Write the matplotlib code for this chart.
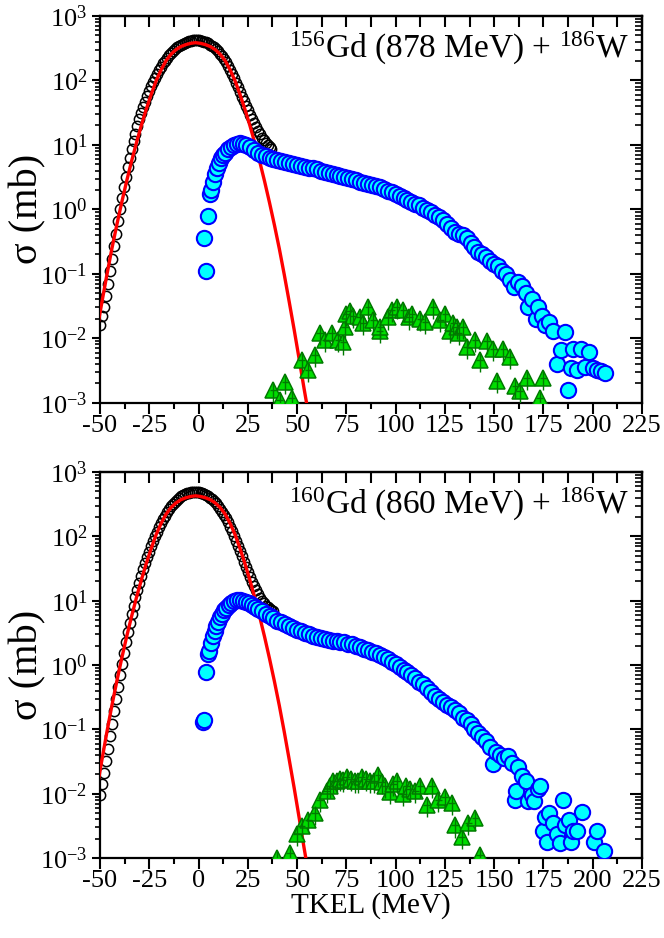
import numpy as np
import matplotlib
matplotlib.use("Agg")
import matplotlib.pyplot as plt
from matplotlib.ticker import LogLocator, MultipleLocator, NullFormatter, LogFormatterMathtext

plt.rcParams['font.family'] = ['Liberation Serif', 'DejaVu Serif']
plt.rcParams['mathtext.fontset'] = 'custom'
plt.rcParams['mathtext.rm'] = 'Liberation Serif'
plt.rcParams['mathtext.it'] = 'Liberation Serif:italic'
plt.rcParams['axes.unicode_minus'] = False

# ---------------- upper panel: 156Gd + 186W ----------------
titles = [r'$^{156}$Gd (878 MeV) + $^{186}$W', r'$^{160}$Gd (860 MeV) + $^{186}$W']

# quasi-elastic data (open black circles), 1 MeV steps from -50
qe_x1 = list(range(-50, 38))
qe_y1 = [0.016, 0.022, 0.03, 0.045, 0.07, 0.11, 0.17, 0.27, 0.42, 0.65,
         1.0, 1.5, 2.2, 3.2, 4.5, 6.3, 8.6, 11.5, 15, 19.5,
         25, 31, 38, 47, 57, 68, 81, 95, 110, 127,
         145, 163, 183, 203, 224, 245, 266, 286, 305, 324,
         341, 357, 371, 384, 395, 404, 411, 416, 419, 420,
         418, 414, 408, 399, 388, 375, 360, 343, 324, 304,
         283, 260, 237, 214, 191, 168, 147, 127, 108, 92,
         78, 66, 56, 47.5, 40.5, 34.5, 29.5, 25.5, 22, 19,
         16.6, 14.6, 13, 11.7, 10.6, 9.8, 9.1, 8.5]

# fitted curve (red)
fit_x = [-51.5, -49, -46.5, -44, -41.5, -39, -36.5, -34, -31.5, -29, -26.5, -24,
         -21.5, -19, -16.5, -14, -11.5, -9, -6.5, -4, -1.5, 1, 3.5, 6, 8.5, 11,
         13.5, 16, 18.5, 21, 23.5, 26, 28.5, 31, 33.5, 36, 38.5, 41, 43.5, 46,
         48.5, 51, 53.5, 56]
fit_y1 = [0.0136, 0.0367, 0.0966, 0.243, 0.569, 1.27, 2.72, 5.56, 10.8, 20.2,
          35.9, 61.0, 98.9, 146, 202, 254, 299, 335, 359, 376, 385,
          376, 359, 335, 299, 254, 202, 146, 98.9, 61.0, 35.9, 20.2, 10.8,
          5.56, 2.72, 1.27, 0.569, 0.243, 0.0966, 0.0367, 0.0136, 0.00484,
          0.00168, 0.00061]

# deep-inelastic data (cyan circles)
dic_x1 = [3.8, 2.8, 5, 6, 6.5, 7.5, 8.5, 9.5, 10.5, 11.5, 12.5, 13.5, 15, 16.5,
          18, 19.5, 21, 22.5, 24, 26, 28, 30, 32, 34, 36, 38, 40, 42, 44, 46,
          48, 50, 52, 54, 56, 58, 60, 62, 64, 66, 68, 70, 72, 74, 76, 78, 80,
          82, 84, 86, 88, 90, 92, 94, 96, 98, 100, 102, 104, 106, 108, 110,
          112, 114, 116, 118, 120, 122, 124, 126, 128, 130, 132, 134, 136,
          138, 140, 142, 144, 146, 148, 150, 152, 154, 156, 158, 160, 162,
          164, 166, 167, 169, 171, 172, 174, 176, 178, 180, 182, 184, 186,
          187.5, 189, 190, 192, 194, 196, 198, 200, 202, 204, 206]
dic_y1 = [0.11, 0.36, 0.78, 1.75, 2.0, 2.7, 3.5, 4.4, 5.3, 6.2, 7.0, 7.6, 8.5,
          9.2, 9.8, 10.3, 10.5, 10.3, 9.9, 9.2, 8.3, 7.6, 7.0, 6.6, 6.3, 6.0,
          5.8, 5.6, 5.4, 5.2, 5.0, 4.85, 4.7, 4.6, 4.45, 4.3, 4.15, 4.0, 3.85,
          3.7, 3.55, 3.4, 3.3, 3.15, 3.05, 2.95, 2.85, 2.7, 2.6, 2.5, 2.4, 2.3,
          2.2, 2.05, 1.95, 1.85, 1.7, 1.6, 1.5, 1.4, 1.3, 1.22, 1.15, 1.05,
          0.97, 0.9, 0.82, 0.76, 0.68, 0.6, 0.52, 0.45, 0.42, 0.4, 0.36, 0.3,
          0.26, 0.22, 0.2, 0.18, 0.16, 0.14, 0.13, 0.11, 0.1, 0.08, 0.063,
          0.075, 0.065, 0.05, 0.031, 0.04, 0.02, 0.03, 0.022, 0.016, 0.018,
          0.013, 0.004, 0.0066, 0.0125, 0.0016, 0.0035, 0.0068, 0.0032,
          0.0069, 0.0036, 0.0061, 0.0034, 0.0032, 0.0031, 0.0029]

# quasi-fission / fusion-fission data (green triangles)
qf_x1 = [37.9, 43.9, 41.3, 47.3, 52.3, 55.7, 59.1, 61.6, 64.2, 67.5, 70.9, 73.4,
         74.3, 75, 76.8, 78.5, 81.9, 83.6, 86.1, 88.7, 92, 92.1, 96.3, 98,
         100.5, 103.9, 107, 108.1, 112.4, 115, 119.1, 122.5, 125.1, 127.6,
         129.3, 131, 132, 134.4, 136.1, 140.3, 142.8, 146.2, 149.6, 151.3,
         154.6, 158, 160.6, 163, 166.5, 173.2, 174.9]
qf_y1 = [0.0016, 0.0021, 0.0011, 0.0012, 0.0046, 0.0032, 0.0055, 0.012, 0.0094,
         0.012, 0.0094, 0.0086, 0.015, 0.024, 0.026, 0.022, 0.021, 0.017,
         0.031, 0.019, 0.013, 0.015, 0.021, 0.027, 0.031, 0.027, 0.021, 0.024,
         0.020, 0.018, 0.031, 0.019, 0.024, 0.013, 0.017, 0.015, 0.012, 0.015,
         0.0074, 0.0094, 0.0046, 0.0089, 0.0069, 0.0022, 0.0069, 0.0051,
         0.0018, 0.0015, 0.0024, 0.0012, 0.0024]

# ---------------- lower panel: 160Gd + 186W ----------------
qe_x2 = list(range(-50, 39))
qe_y2 = [0.0095, 0.014, 0.021, 0.032, 0.05, 0.078, 0.12, 0.19, 0.3, 0.46,
         0.7, 1.05, 1.55, 2.25, 3.2, 4.5, 6.2, 8.4, 11.2, 14.7,
         19, 24.5, 31, 39, 48, 58, 70, 84, 100, 118,
         138, 160, 184, 209, 236, 264, 292, 320, 347, 373,
         397, 419, 438, 454, 467, 477, 484, 488, 490, 489,
         485, 478, 468, 455, 439, 420, 399, 376, 351, 325,
         298, 270, 243, 216, 190, 165, 142, 121, 102, 85,
         71, 59, 49, 40.5, 33.5, 28, 23.5, 19.8, 16.8, 14.5,
         12.6, 11.1, 10, 9.1, 8.4, 7.9, 7.5, 7.2, 7.0]

fit_y2 = [0.01233, 0.0338, 0.0908, 0.232, 0.554, 1.26, 2.74, 5.66, 11.2, 21.1,
          38.0, 65.2, 106.7, 159, 221, 279.5, 329.5, 370.5, 397.5, 416.7, 426.6,
          416.7, 397.5, 370.5, 329.5, 279.5, 221, 159, 106.7, 65.2, 38.0,
          21.1, 11.2, 5.66, 2.74, 1.26, 0.554, 0.232, 0.0908, 0.0338, 0.01233,
          0.00429, 0.00146, 0.00052]

dic_x2 = [2.2, 3, 3.8, 5, 5.5, 6.5, 7.3, 8.2, 9, 10, 11, 12, 13, 14, 15.2, 16.5,
          18, 19.5, 21, 22.5, 24, 25.5, 27, 28.5, 30, 32, 34, 36, 38, 40, 42,
          44, 46, 48, 50, 52, 54, 56, 58, 60, 62, 64, 66, 68, 70, 72, 74, 76,
          78, 80, 82, 84, 86, 88, 90, 92, 94, 96, 98, 100, 102, 104, 106, 108,
          110, 112, 114, 116, 118, 120, 122, 124, 126, 128, 130, 132, 134, 136,
          138, 140, 142, 144, 146, 148, 149.5, 151, 153, 155, 157, 159, 160.5,
          161, 162, 164, 166, 167, 169, 170, 172, 173, 175, 176, 177, 178, 180,
          182, 183.5, 185, 186, 188, 189, 190, 192, 194.5, 200.5, 202, 205.5]
dic_y2 = [0.13, 0.14, 0.79, 1.5, 1.65, 2.2, 2.8, 3.4, 4.0, 4.7, 5.5, 6.3, 7.1,
          7.8, 8.6, 9.3, 9.8, 10.1, 10.2, 10.0, 9.6, 9.1, 8.5, 7.9, 7.4, 6.8,
          6.2, 5.7, 5.3, 4.9, 4.6, 4.3, 4.05, 3.8, 3.55, 3.35, 3.15, 3.0, 2.85,
          2.75, 2.65, 2.55, 2.45, 2.4, 2.35, 2.3, 2.25, 2.15, 2.1, 2.0, 1.9,
          1.8, 1.72, 1.62, 1.52, 1.42, 1.32, 1.22, 1.12, 1.02, 0.93, 0.85,
          0.78, 0.7, 0.62, 0.55, 0.5, 0.44, 0.38, 0.33, 0.3, 0.27, 0.24, 0.22,
          0.2, 0.18, 0.15, 0.14, 0.12, 0.1, 0.087, 0.075, 0.065, 0.054, 0.029,
          0.045, 0.04, 0.036, 0.038, 0.03, 0.0079, 0.011, 0.026, 0.019, 0.016,
          0.0076, 0.0095, 0.0076, 0.012, 0.013, 0.0026, 0.0043, 0.0018, 0.005,
          0.0035, 0.0024, 0.0017, 0.0079, 0.0033, 0.0039, 0.0018, 0.0026,
          0.0026, 0.0051, 0.0018, 0.0026, 0.0013]

qf_x2 = [39.6, 46.4, 49.8, 52.3, 55.7, 59.1, 61.6, 65, 66.5, 68.4, 70, 71.8,
         73.5, 75.2, 77.3, 79.4, 81, 82.8, 85, 87, 89, 91.2, 93, 94.6, 97.1,
         98.8, 100.5, 103.9, 105.5, 107.3, 110, 112.4, 115.8, 118.3, 121.6,
         125, 128.4, 130.1, 133.5, 136.9, 140.3, 142.8]
qf_y2 = [0.001, 0.0012, 0.0024, 0.0031, 0.0039, 0.005, 0.0079, 0.011, 0.013,
         0.0155, 0.016, 0.017, 0.0165, 0.018, 0.017, 0.0155, 0.016, 0.018,
         0.017, 0.0155, 0.016, 0.0195, 0.015, 0.013, 0.0107, 0.014, 0.016,
         0.010, 0.013, 0.012, 0.011, 0.013, 0.0066, 0.013, 0.0079, 0.0089,
         0.0071, 0.0032, 0.0021, 0.0035, 0.0042, 0.0011]

panels = [
    (qe_x1, qe_y1, fit_y1, dic_x1, dic_y1, qf_x1, qf_y1, titles[0]),
    (qe_x2, qe_y2, fit_y2, dic_x2, dic_y2, qf_x2, qf_y2, titles[1]),
]

fig = plt.figure(figsize=(6.64, 9.38), dpi=100)
boxes = [[0.1506, 0.5707, 0.8163, 0.4123], [0.1506, 0.0853, 0.8163, 0.4115]]

for box, (qx, qy, fy, dx, dy, gx, gy, title) in zip(boxes, panels):
    ax = fig.add_axes(box)
    ax.set_yscale('log')

    ax.plot(qx, qy, 'o', ms=7.4, mfc='none', mec='black', mew=1.1, zorder=2)
    ax.plot(fit_x, fy, '-', color='#ff0000', lw=2.4, zorder=3)
    ax.plot(dx, dy, 'o', ms=11, mfc='#00ffff', mec='#0000ff', mew=1.5, zorder=4)

    gx = np.array(gx)
    gy = np.array(gy)
    ax.plot(gx, gy, '^', ms=11, mfc='#00dd00', mec='#007a00', mew=1.1, zorder=5)
    ax.errorbar(gx, gy, xerr=1.8, yerr=[gy * 0.35, gy * 0.3], fmt='none',
                ecolor='#007a00', elinewidth=1.0, capsize=0, zorder=6)

    ax.set_xlim(-50, 225)
    ax.set_ylim(1e-3, 1e3)

    ax.xaxis.set_major_locator(MultipleLocator(25))
    ax.xaxis.set_minor_locator(MultipleLocator(12.5))
    ax.yaxis.set_major_locator(LogLocator(base=10, numticks=10))
    ax.yaxis.set_minor_locator(LogLocator(base=10, subs=np.arange(2, 10), numticks=10))
    ax.yaxis.set_major_formatter(LogFormatterMathtext())
    ax.yaxis.set_minor_formatter(NullFormatter())

    ax.tick_params(axis='x', which='major', direction='out', length=8, width=1.5,
                   labelsize=19, pad=1)
    ax.tick_params(axis='x', which='minor', direction='out', length=4, width=1.5)
    ax.tick_params(axis='y', which='major', direction='out', length=6, width=1.5,
                   labelsize=19, pad=3)
    ax.tick_params(axis='y', which='minor', direction='out', length=3.5, width=1.2)
    for sp in ax.spines.values():
        sp.set_linewidth(1.6)

    # mirrored axes with inward ticks
    top = ax.secondary_xaxis('top')
    top.xaxis.set_major_locator(MultipleLocator(25))
    top.xaxis.set_minor_locator(MultipleLocator(12.5))
    top.tick_params(which='both', direction='in', length=8, width=1.5, labeltop=False)
    right = ax.secondary_yaxis('right')
    right.yaxis.set_major_locator(LogLocator(base=10, numticks=10))
    right.yaxis.set_minor_locator(LogLocator(base=10, subs=np.arange(2, 10), numticks=10))
    right.tick_params(which='major', direction='in', length=9, width=1.5, labelright=False)
    right.tick_params(which='minor', direction='in', length=5, width=1.2, labelright=False)
    for s in (top, right):
        for sp in s.spines.values():
            sp.set_linewidth(1.6)

    ax.set_ylabel('σ (mb)', fontsize=29)
    ax.yaxis.set_label_coords(-0.098, 0.5)
    ax.text(0.975, 0.915, title, transform=ax.transAxes, ha='right', va='center',
            fontsize=24)

ax.set_xlabel('TKEL (MeV)', fontsize=21, labelpad=0)

fig.savefig('out.png', dpi=100)
